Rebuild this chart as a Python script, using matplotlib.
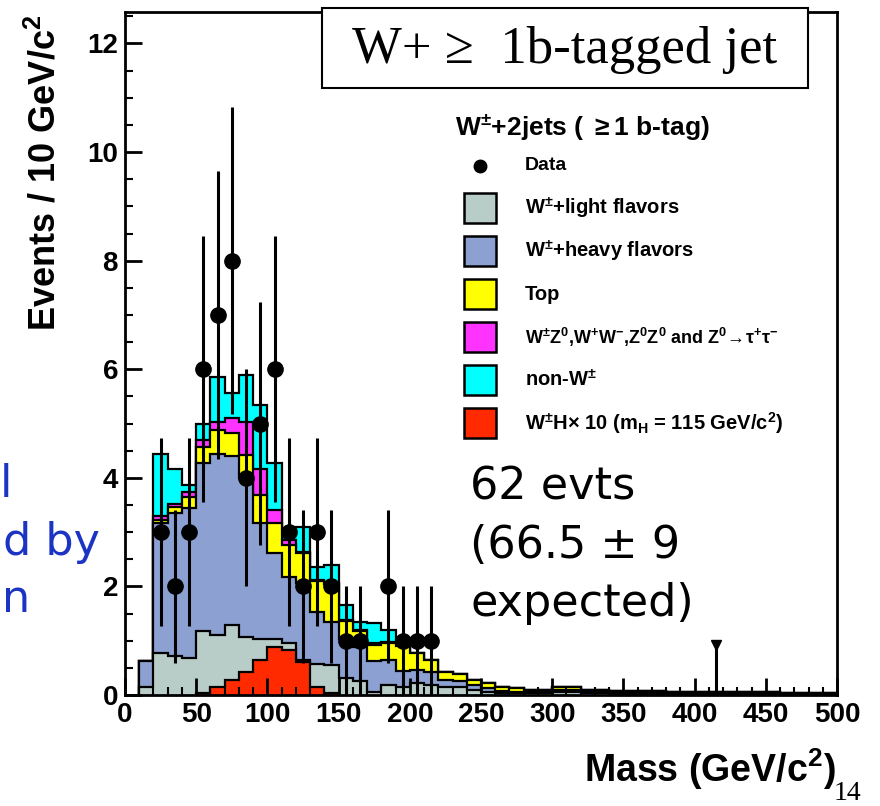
import numpy as np
import matplotlib
matplotlib.use('Agg')
import matplotlib.pyplot as plt
from matplotlib.patches import Rectangle

plt.rcParams['font.family'] = ['Liberation Sans', 'DejaVu Sans']
plt.rcParams['font.weight'] = 'bold'
plt.rcParams['mathtext.fontset'] = 'custom'
plt.rcParams['mathtext.rm'] = 'Liberation Sans:bold'
plt.rcParams['mathtext.bf'] = 'Liberation Sans:bold'
plt.rcParams['mathtext.it'] = 'Liberation Sans:bold'
plt.rcParams['mathtext.default'] = 'bf'

# ---- data, bins of 10 GeV starting at 10 ----
bin_lo = list(range(10, 500, 10))
light = [0.14, 0.77, 0.72, 0.68, 1.17, 1.10, 1.29, 1.06, 1.03, 1.04,
         0.95, 0.64, 0.58, 0.55, 0.31, 0.25, 0.05, 0.18, 0.15, 0.22,
         0.18, 0.15, 0.14, 0.10, 0.05, 0.04, 0.03, 0.03, 0.03, 0.05,
         0.05, 0.03, 0.03, 0.02, 0.02, 0.02, 0.02, 0.01, 0.01, 0.01,
         0.01, 0.01, 0.01, 0.01, 0.01, 0.01, 0.01, 0.01, 0.01]
heavy = [0.49, 2.39, 2.63, 2.76, 3.10, 3.34, 3.11, 2.93, 2.13, 1.57,
         1.23, 1.42, 0.95, 0.80, 0.73, 0.64, 0.57, 0.46, 0.30, 0.24,
         0.25, 0.13, 0.11, 0.08, 0.07, 0.04, 0.03, 0.02, 0.02, 0.04,
         0.04, 0.03, 0.03, 0.02, 0.02, 0.02, 0.02, 0.02, 0.02, 0.02,
         0.02, 0.02, 0.02, 0.02, 0.02, 0.01, 0.01, 0.01, 0.01]
top = [0.00, 0.06, 0.12, 0.21, 0.30, 0.45, 0.42, 0.43, 0.52, 0.55,
       0.58, 0.56, 0.57, 0.69, 0.32, 0.29, 0.31, 0.32, 0.45, 0.31,
       0.21, 0.15, 0.14, 0.10, 0.10, 0.06, 0.06, 0.05, 0.04, 0.06,
       0.06, 0.04, 0.04, 0.04, 0.04, 0.04, 0.04, 0.02, 0.02, 0.02,
       0.02, 0.02, 0.02, 0.02, 0.02, 0.02, 0.02, 0.02, 0.02]
diboson = [0.00, 0.08, 0.05, 0.09, 0.13, 0.14, 0.28, 0.61, 0.49, 0.25,
           0.09, 0.02, 0.02, 0.02, 0.02, 0.02, 0.02, 0.02, 0.01] + [0.0] * 30
nonw = [0.00, 1.13, 0.65, 0.13, 0.29, 0.83, 0.46, 0.86, 1.17, 0.86,
        0.19, 0.46, 0.24, 0.33, 0.28, 0.15, 0.37, 0.22, 0.07] + [0.0] * 30

wh_lo = [50, 60, 70, 80, 90, 100, 110, 120, 130, 140]
wh_x10 = [0.04, 0.15, 0.28, 0.43, 0.64, 0.88, 0.83, 0.61, 0.15, 0.03]

data_x = [25, 35, 45, 55, 65, 75, 85, 95, 105, 115, 125, 135, 145,
          155, 165, 185, 195, 205, 215]
data_n = [3, 2, 3, 6, 7, 8, 4, 5, 6, 3, 2, 3, 2, 1, 1, 2, 1, 1, 1]
data_err = [1.73, 1.41, 1.73, 2.45, 2.65, 2.83, 2.0, 2.24, 2.45, 1.73,
            1.41, 1.73, 1.41, 1.0, 1.0, 1.41, 1.0, 1.0, 1.0]
lone_x = 415
lone_top = 0.93

names = [r'W$^{\pm}$+light flavors', r'W$^{\pm}$+heavy flavors', 'Top',
         r'W$^{\pm}$Z$^{0}$,W$^{+}$W$^{-}$,Z$^{0}$Z$^{0}$ and Z$^{0}$$\!\rightarrow\!\tau^{+}\tau^{-}$',
         r'non-W$^{\pm}$', r'W$^{\pm}$H$\times$ 10 (m$_{H}$ = 115 GeV/c$^{2}$)']
colors = ['#b9cdc8', '#8ca0d2', '#ffff00', '#ff33ff', '#00ffff', '#ff2a00']

W, H = 880, 806
def fx(x):
    return x / W
def fy(y):
    return 1 - y / H

fig = plt.figure(figsize=(8.8, 8.06), dpi=100)
ax = fig.add_axes([fx(125), fy(695), (837 - 125) / W, (695 - 12) / H])

edges = np.append(bin_lo, bin_lo[-1] + 10)
stack = np.cumsum(np.vstack([light, heavy, top, diboson, nonw]), axis=0)
for i in reversed(range(5)):
    ax.stairs(stack[i], edges, baseline=0, fill=True, facecolor=colors[i],
              edgecolor='black', linewidth=1.6)
wh_edges = np.append(wh_lo, wh_lo[-1] + 10)
ax.stairs(wh_x10, wh_edges, baseline=0, fill=True, facecolor=colors[5],
          edgecolor='black', linewidth=1.6)

ax.errorbar(data_x, data_n, yerr=data_err, fmt='o', color='black', ms=11,
            elinewidth=2.2, capsize=0, zorder=5)
ax.plot([lone_x, lone_x], [0, lone_top], color='black', lw=2.2, zorder=5)
ax.plot([lone_x], [lone_top], marker='v', color='black', ms=7, zorder=5)

ax.set_xlim(0, 500)
ax.set_ylim(0, 12.58)
ax.set_xticks(range(0, 501, 50))
ax.set_xticks(range(0, 501, 10), minor=True)
ax.set_yticks(range(0, 13, 2))
ax.set_yticks(np.arange(0, 12.6, 0.5), minor=True)
ax.tick_params(which='both', direction='in', top=False, right=False, width=2)
ax.tick_params(which='major', length=12, labelsize=20, pad=5)
ax.tick_params(which='minor', length=6, width=1.5)
for s in ax.spines.values():
    s.set_linewidth(2)

# axis titles
fig.text(fx(45), fy(14), r'Events / 10 GeV/c$^{2}$', rotation=90,
         ha='center', va='top', fontsize=26)
fig.text(fx(836), fy(782), r'Mass (GeV/c$^{2}$)', ha='right', va='baseline',
         fontsize=27)

# legend drawn by hand to sit where the original one does
fig.text(fx(455), fy(127), r'W$^{\pm}$+2jets ( $\geq$1 b-tag)', ha='left',
         va='center', fontsize=19)
fig.add_artist(plt.Line2D([fx(480)], [fy(166)], marker='o', color='black',
                          ms=9, transform=fig.transFigure))
fig.text(fx(525), fy(165), 'Data', ha='left', va='center', fontsize=14)
for k, (nm, c) in enumerate(zip(names, colors)):
    yc = 208 + 43 * k
    fig.add_artist(Rectangle((fx(464), fy(yc + 15)), 32 / W, 30 / H,
                             facecolor=c, edgecolor='black', lw=1.8,
                             transform=fig.transFigure))
    fs = 13 if k == 3 else 14.5
    fig.text(fx(525), fy(yc), nm, ha='left', va='center', fontsize=fs)

# slide annotations
fig.add_artist(Rectangle((fx(322), fy(88)), (808 - 322) / W, 80 / H,
                         facecolor='white', edgecolor='black', lw=1.5,
                         transform=fig.transFigure))
fig.text(fx(565), fy(50), 'W+ \u2265  1b-tagged jet', ha='center', va='center',
         fontsize=38, family='Liberation Serif', weight='normal')

for s, yb in zip(['62 evts', '(66.5 ± 9', 'expected)'], [500, 558, 616]):
    fig.text(fx(470), fy(yb), s, ha='left', va='baseline', fontsize=32,
             family='DejaVu Sans', weight='normal')
for s, xr, yb in zip(['l', 'd by', 'n'], [12, 100, 30], [497, 555, 612]):
    fig.text(fx(xr), fy(yb), s, ha='right', va='baseline', fontsize=32,
             family='DejaVu Sans', weight='normal', color='#1c34c4')
fig.text(fx(834), fy(800), '14', ha='left', va='baseline', fontsize=20,
         family='Liberation Serif', weight='normal')

fig.savefig('out.png', dpi=100)
